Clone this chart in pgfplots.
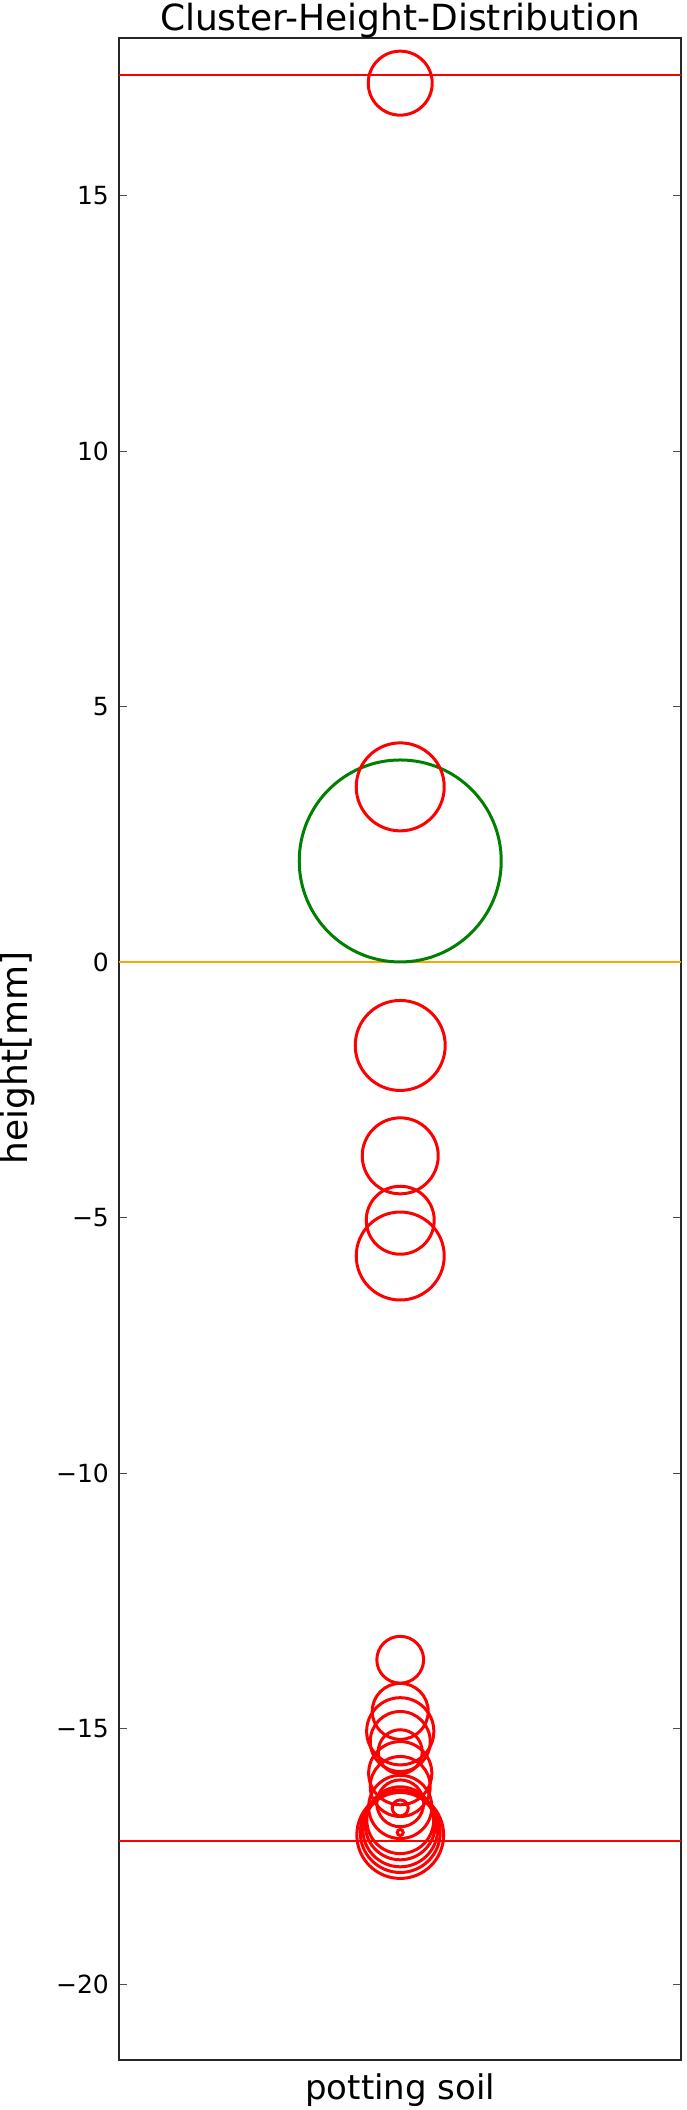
\documentclass[border=0pt]{standalone}
\usepackage{fontspec}
\setmainfont{DejaVu Sans}
\usepackage{pgfplots}
\usepackage{pgfplotstable}
\pgfplotsset{compat=1.18}

% red clusters: x, height [mm], marker radius [pt]
\pgfplotstableread{
x y r
1 17.20 16.0
1 3.43 22.0
1 -1.63 22.5
1 -3.79 19.0
1 -5.05 17.0
1 -5.75 22.0
1 -13.65 11.7
1 -14.66 14.0
1 -15.05 16.8
1 -15.25 15.0
1 -15.45 11.0
1 -15.87 15.8
1 -16.13 15.0
1 -16.46 11.7
1 -16.53 15.8
1 -16.55 4.0
1 -16.79 16.7
1 -16.88 17.5
1 -16.97 18.7
1 -17.03 20.0
1 -17.08 21.7
1 -17.03 1.5
}\redclusters

\pgfplotstableread{
x y r
1 1.98 50.5
}\greencluster

\begin{document}
\begin{tikzpicture}
\begin{axis}[
  name=ax,
  scale only axis,
  width=281pt, height=1011.4pt,
  xmin=0, xmax=2,
  ymin=-21.49, ymax=18.09,
  xtick={1}, xticklabels={potting soil},
  ytick={-20,-15,-10,-5,0,5,10,15},
  yticklabels={−20,−15,−10,−5,0,5,10,15},
  tick align=inside,
  major tick length=4pt,
  xtick style={draw=none},
  ytick style={black!70, line width=0.6pt},
  axis line style={black!85, line width=1pt},
  yticklabel style={font=\fontsize{12.5}{14}\selectfont, anchor=east, inner sep=0pt, xshift=-5pt},
  xticklabel style={font=\fontsize{17}{19}\selectfont, anchor=base, inner sep=0pt, yshift=-19.5pt},
  title={Cluster-Height-Distribution},
  title style={font=\fontsize{18}{20}\selectfont, at={(axis description cs:0.5,1)}, anchor=base, inner sep=0pt, yshift=-2.5pt},
  ylabel={height[mm]},
  ylabel style={font=\fontsize{18}{20}\selectfont, at={(axis description cs:-0.1495,0.4955)}, anchor=south, inner sep=0pt},
  clip=false,
]
\addplot[red, line width=0.9pt, forget plot] coordinates {(0,17.36) (2,17.36)};
\addplot[red, line width=0.9pt, forget plot] coordinates {(0,-17.2) (2,-17.2)};
\addplot[color={rgb,255:red,255;green,165;blue,0}, line width=1pt, forget plot] coordinates {(0,0) (2,0)};

\addplot[only marks, mark=o, line width=1.5pt,
  draw={rgb,255:red,0;green,128;blue,0},
  visualization depends on={\thisrow{r} \as \perpointmarksize},
  scatter,
  scatter/@pre marker code/.code={\scope[mark size=\perpointmarksize, draw={rgb,255:red,0;green,128;blue,0}, line width=1.5pt]},
  scatter/@post marker code/.code={\endscope}]
  table[x=x, y=y] {\greencluster};

\addplot[only marks, mark=o, line width=1.5pt, draw=red,
  visualization depends on={\thisrow{r} \as \perpointmarksize},
  scatter,
  scatter/@pre marker code/.code={\scope[mark size=\perpointmarksize, draw=red, line width=1.5pt]},
  scatter/@post marker code/.code={\endscope}]
  table[x=x, y=y] {\redclusters};
\end{axis}
\path (ax.south west) ++(-59pt,-24.8pt);
\path (ax.north east) ++(2.7pt,18.85pt);
\end{tikzpicture}
\end{document}
